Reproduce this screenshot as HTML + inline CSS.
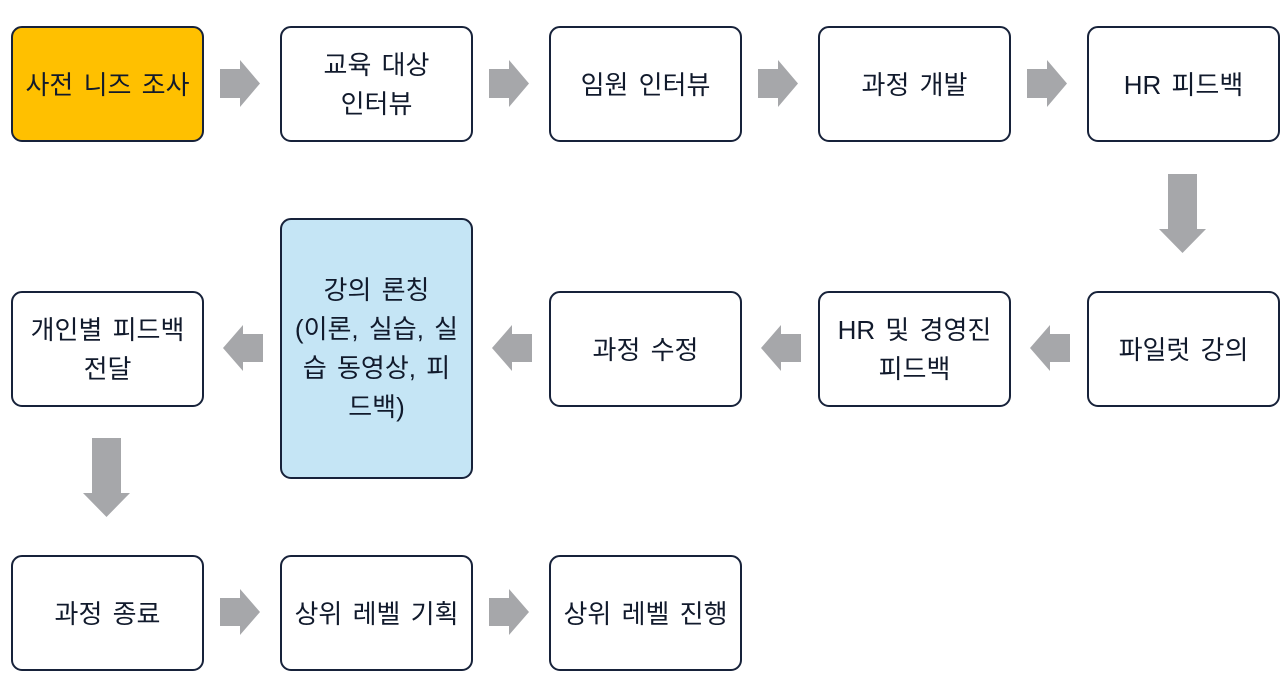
<!DOCTYPE html>
<html><head><meta charset="utf-8"><style>
html,body{margin:0;padding:0;background:#fff;}
body{width:1280px;height:696px;position:relative;overflow:hidden;font-family:"Liberation Sans","Noto Sans CJK KR",sans-serif;}
.b{position:absolute;box-sizing:border-box;border:2px solid #17223a;border-radius:11px;background:#fff;display:flex;align-items:center;justify-content:center;text-align:center;font-size:26px;line-height:39px;word-spacing:3px;color:#111a2c;width:193px;height:116px;padding-top:2px;}
svg{position:absolute;left:0;top:0;}
</style></head><body>
<svg width="1280" height="696">
<g fill="#a6a7aa">
<polygon points="220,69 240,69 240,60 260,83.5 240,107 240,98 220,98"/>
<polygon points="489,69 509,69 509,60 529,83.5 509,107 509,98 489,98"/>
<polygon points="758,69 778,69 778,60 798,83.5 778,107 778,98 758,98"/>
<polygon points="1027,69 1047,69 1047,60 1067,83.5 1047,107 1047,98 1027,98"/>
<polygon points="220,598 240,598 240,589 260,612 240,635 240,626 220,626"/>
<polygon points="489,598 509,598 509,589 529,612 509,635 509,626 489,626"/>
<polygon points="263,334 243,334 243,325 223,348 243,371 243,362 263,362"/>
<polygon points="532,334 512,334 512,325 492,348 512,371 512,362 532,362"/>
<polygon points="801,334 781,334 781,325 761,348 781,371 781,362 801,362"/>
<polygon points="1070,334 1050,334 1050,325 1030,348 1050,371 1050,362 1070,362"/>
<polygon points="1168,174 1197,174 1197,229 1206,229 1182.5,253 1159,229 1168,229"/>
<polygon points="92,438 121,438 121,493 130,493 106.5,517 83,493 92,493"/>
</g>
</svg>
<div class="b" style="left:11px;top:26px;background:#ffc000;">사전 니즈 조사</div>
<div class="b" style="left:280px;top:26px;">교육 대상<br>인터뷰</div>
<div class="b" style="left:549px;top:26px;">임원 인터뷰</div>
<div class="b" style="left:818px;top:26px;">과정 개발</div>
<div class="b" style="left:1087px;top:26px;">HR 피드백</div>
<div class="b" style="left:11px;top:291px;">개인별 피드백<br>전달</div>
<div class="b" style="left:280px;top:218px;height:261px;background:#c5e5f5;padding:0 6px;">강의 론칭<br>(이론, 실습, 실<br>습 동영상, 피<br>드백)</div>
<div class="b" style="left:549px;top:291px;">과정 수정</div>
<div class="b" style="left:818px;top:291px;">HR 및 경영진<br>피드백</div>
<div class="b" style="left:1087px;top:291px;">파일럿 강의</div>
<div class="b" style="left:11px;top:555px;">과정 종료</div>
<div class="b" style="left:280px;top:555px;">상위 레벨 기획</div>
<div class="b" style="left:549px;top:555px;">상위 레벨 진행</div>
</body></html>
